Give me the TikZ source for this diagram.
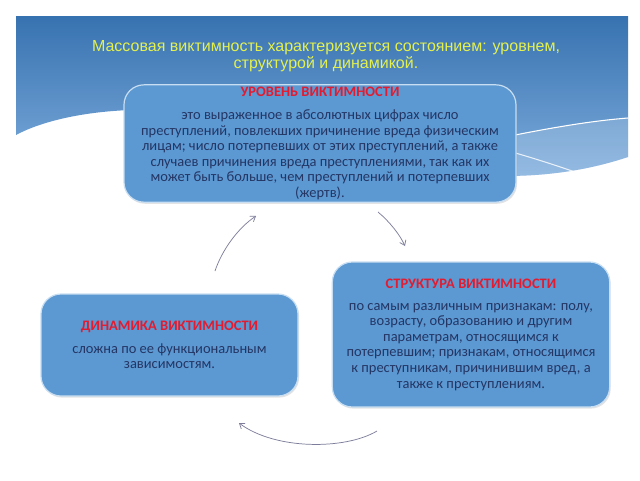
\documentclass[tikz,border=0pt]{standalone}
\usepackage{fontspec}
\setmainfont{Carlito}
\newfontfamily\arialfont{Liberation Sans}
\usetikzlibrary{arrows.meta,shadows}
\definecolor{boxblue}{RGB}{92,152,210}
\definecolor{boxedge}{RGB}{200,222,242}
\definecolor{bandtop}{RGB}{55,114,176}
\definecolor{bandbot}{RGB}{125,172,220}
\definecolor{titleyellow}{RGB}{228,240,78}
\definecolor{headred}{RGB}{226,28,48}
\definecolor{bodynavy}{RGB}{36,54,100}
\definecolor{arrowgray}{RGB}{125,125,155}
\tikzset{
  vbox/.style={draw=boxedge, line width=0.9pt, fill=boxblue, rounded corners=15pt,
    drop shadow={opacity=0.22, shadow xshift=0.8pt, shadow yshift=-1.2pt},
    align=center, text=bodynavy, inner sep=0pt,
    font=\fontsize{10.85}{11.65}\selectfont},
  arr/.style={draw=arrowgray, line width=0.55pt, -{Straight Barb[length=3.5pt,width=5pt]}},
}
\begin{document}
\begin{tikzpicture}[x=0.75pt,y=-0.75pt]
\useasboundingbox (0,0) rectangle (640,480);
\fill[white] (0,0) rectangle (640,480);
% header band
\shade[top color=bandtop, bottom color=bandbot]
  (16,16) -- (628,16) -- (628,157)
  .. controls (595,168) and (555,176) .. (505,176) -- (505,110) -- (130,110)
  .. controls (80,112) and (40,122) .. (16,135) -- cycle;
\fill[white, opacity=0.18] (505,137) .. controls (550,128) and (590,121) .. (628,118)
  -- (628,157) .. controls (595,168) and (555,176) .. (505,176) -- cycle;
\draw[white, line width=0.8pt] (505,137) .. controls (550,128) and (590,121) .. (628,118);
\draw[white, line width=0.8pt, opacity=0.8] (505,150) .. controls (530,157) and (555,165) .. (575,172);
% title
\node[text=titleyellow, align=center, font=\arialfont\fontsize{12}{12.9}\selectfont] (title) at (326,56)
  {Массовая виктимность характеризуется состоянием: уровнем,\\ структурой и динамикой.};
% boxes
\node[vbox, minimum width=294pt, minimum height=88pt] (level) at (320,143.5)
  {{\bfseries\color{headred}УРОВЕНЬ ВИКТИМНОСТИ}\\[5.5pt]
   это выраженное в абсолютных цифрах число\\
   преступлений, повлекших причинение вреда физическим\\
   лицам; число потерпевших от этих преступлений, а также\\
   случаев причинения вреда преступлениями, так как их\\
   может быть больше, чем преступлений и потерпевших\\
   (жертв).};
\node[vbox, minimum width=208pt, minimum height=108.75pt] (struct) at (471,334.5)
  {{\bfseries\color{headred}СТРУКТУРА ВИКТИМНОСТИ}\\[5pt]
   по самым различным признакам: полу,\\
   возрасту, образованию  и другим\\
   параметрам, относящимся к\\
   потерпевшим; признакам, относящимся\\
   к преступникам, причинившим вред, а\\
   также к преступлениям.};
\node[vbox, minimum width=192.75pt, minimum height=76.5pt] (dyn) at (169.5,345)
  {{\bfseries\color{headred}ДИНАМИКА ВИКТИМНОСТИ}\\[5.5pt]
   сложна по ее функциональным\\
   зависимостям.};
% arrows
\coordinate (a1s) at (215,271);
\coordinate (a1e) at (256,216);
\coordinate (a2s) at (378,212);
\coordinate (a2e) at (405,246);
\coordinate (a3s) at (377,431);
\coordinate (a3e) at (239,423);
\draw[arr] (a1s) .. controls (222,250) and (238,228) .. (a1e);
\draw[arr] (a2s) .. controls (390,222) and (400,235) .. (a2e);
\draw[arr] (a3s) .. controls (345,450) and (275,450) .. (a3e);
\end{tikzpicture}
\end{document}
